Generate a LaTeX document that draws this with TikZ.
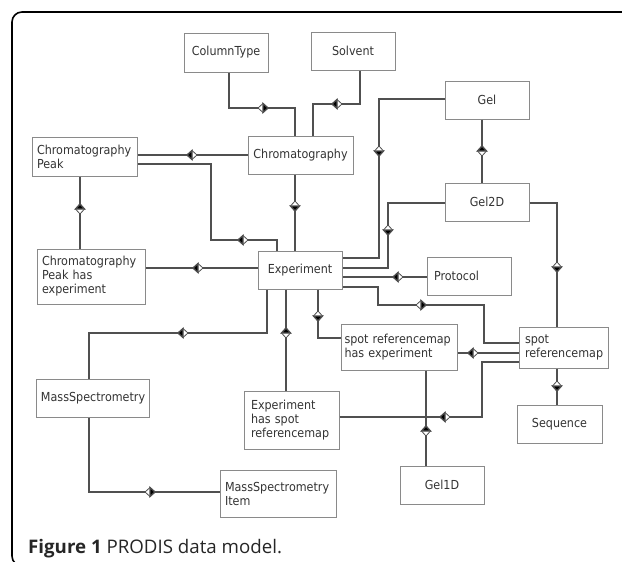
\documentclass[tikz,border=0pt]{standalone}
\usepackage{fontspec}
\usetikzlibrary{calc}
\newfontfamily\boxfont[FakeStretch=0.9]{DejaVu Sans}
\newfontfamily\capfont{Open Sans}
\definecolor{bord}{HTML}{8A8A8A}
\definecolor{lien}{HTML}{505050}
\definecolor{texte}{HTML}{333333}
\hyphenpenalty=10000
% half black, half white diamond: x, y, side of the black half (0 e, 90 s, 180 w, 270 n)
\newcommand{\losange}[3]{\begin{scope}[shift={(#1,#2)}, rotate=#3]
  \filldraw[fill=white, draw=lien, line width=0.8] (-5,0) -- (0,-4.5) -- (5,0) -- (0,4.5) -- cycle;
  \fill[lien] (0,-4.5) -- (5,0) -- (0,4.5) -- cycle;
  \end{scope}}
\tikzset{
  entite/.style={draw=bord, line width=1, text=texte, font=\boxfont\fontsize{12.4}{14}\selectfont,
    inner xsep=5, inner ysep=0, align=left},
  lien/.style={draw=lien, line width=1.3}
}

\begin{document}
\begin{tikzpicture}[x=1pt, y=-1pt]
                    \useasboundingbox (0,0) rectangle (622,562);
                    \draw[line width=1.6, rounded corners=10] (625,12) -- (12,12) -- (12,566) -- (40,566);

                    \node[entite, text width=74, minimum height=39, align=center] (coltype) at (226,52.5) {ColumnType};
                    \node[entite, text width=74, minimum height=38, align=center] (solvent) at (353,51) {Solvent};
                    \node[entite, text width=74, minimum height=38, align=center] (gel) at (487,100) {Gel};
                    \node[entite, text width=74, minimum height=38, align=center] (gelzd) at (487,202) {Gel2D};
                    \node[entite, text width=95, minimum height=38, align=center] (chrom) at (300.5,155) {Chromatography};
                    \node[entite, text width=95, minimum height=39] (cpeak) at (84.5,156.5) {Chromatography\\Peak};
                    \node[entite, text width=98, minimum height=55] (cpeakexp) at (91,276.5) {Chromatography\\Peak has\\experiment};
                    \node[entite, text width=74, minimum height=38, align=center] (exp) at (300,270) {Experiment};
                    \node[entite, text width=70, minimum height=38, inner xsep=7] (protocol) at (469,276) {Protocol};
                    \node[entite, text width=109, minimum height=46, inner xsep=3.5] (srhe) at (399,347) {spot referencemap\\has experiment};
                    \node[entite, text width=77, minimum height=41, inner xsep=6] (srm) at (563.5,347.5) {spot\\referencemap};
                    \node[entite, text width=75, minimum height=38, align=center] (sequence) at (559.5,424) {Sequence};
                    \node[entite, text width=103, minimum height=38, align=center] (ms) at (92.5,398) {MassSpectrometry};
                    \node[entite, text width=81, minimum height=58, inner xsep=7] (esr) at (291.5,420) {Experiment\\has spot\\referencemap};
                    \node[entite, text width=106, minimum height=47] (msi) at (278,493.5) {MassSpectrometry\\Item};
                    \node[entite, text width=74, minimum height=38, align=center] (gelud) at (442,485) {Gel1D};

                    \node[anchor=base west, text=black!85, font=\capfont\fontsize{18.7}{21}\selectfont, inner sep=0] (legende) at (28,553) {\textbf{Figure 1} PRODIS data model.};

                    \draw[lien] (coltype.south -| 229,0) |- (295,108) -- (chrom.north -| 295,0);
                    \draw[lien] (solvent.south -| 360,0) |- (313,104) -- (chrom.north -| 313,0);
                    \draw[lien] (cpeak.east |- 0,155) -- (chrom.west |- 0,155);
                    \draw[lien] (cpeak.east |- 0,164) -| (211,240) -| (exp.north -| 277,0);
                    \draw[lien] (cpeak.south -| 80,0) -- (cpeakexp.north -| 80,0);
                    \draw[lien] (cpeakexp.east |- 0,268) -- (exp.west |- 0,268);
                    \draw[lien] (chrom.south -| 295,0) -- (exp.north -| 295,0);
                    \draw[lien] (gel.west |- 0,99) -| (379,258) -- (exp.east |- 0,258);
                    \draw[lien] (gel.south -| 482,0) -- (gelzd.north -| 482,0);
                    \draw[lien] (gelzd.west |- 0,203) -| (388,268) -- (exp.east |- 0,268);
                    \draw[lien] (protocol.west |- 0,277) -- (exp.east |- 0,277);
                    \draw[lien] (exp.east |- 0,287) -| (378,305) -| (484,343) -- (srm.west |- 0,343);
                    \draw[lien] (gelzd.east |- 0,203) -| (srm.north -| 557,0);
                    \draw[lien] (srhe.east |- 0,353) -- (srm.west |- 0,353);
                    \draw[lien] (esr.east |- 0,417) -| (482,362) -- (srm.west |- 0,362);
                    \draw[lien] (exp.south -| 318,0) |- (srhe.west |- 0,338);
                    \draw[lien] (exp.south -| 286,0) -- (esr.north -| 286,0);
                    \draw[lien] (exp.south -| 267,0) |- (89,333) -- (ms.north -| 89,0);
                    \draw[lien] (srm.south -| 557,0) -- (sequence.north -| 557,0);
                    \draw[lien] (srhe.south -| 426,0) -- (gelud.north -| 426,0);
                    \draw[lien] (ms.south -| 89,0) |- (msi.west |- 0,492);

                    \losange{263}{108}{0}
                    \losange{337}{104}{180}
                    \losange{192}{155}{180}
                    \losange{243}{240}{180}
                    \losange{80}{209}{90}
                    \losange{198}{268}{180}
                    \losange{295}{206}{270}
                    \losange{379}{151}{270}
                    \losange{482}{151}{90}
                    \losange{388}{230}{270}
                    \losange{398}{277}{180}
                    \losange{421}{305}{0}
                    \losange{557}{267}{270}
                    \losange{473}{353}{180}
                    \losange{445}{417}{180}
                    \losange{318}{316}{270}
                    \losange{286}{333}{90}
                    \losange{183}{333}{180}
                    \losange{557}{386}{270}
                    \losange{426}{431}{90}
                    \losange{150}{492}{0}
                \end{tikzpicture}
\end{document}
